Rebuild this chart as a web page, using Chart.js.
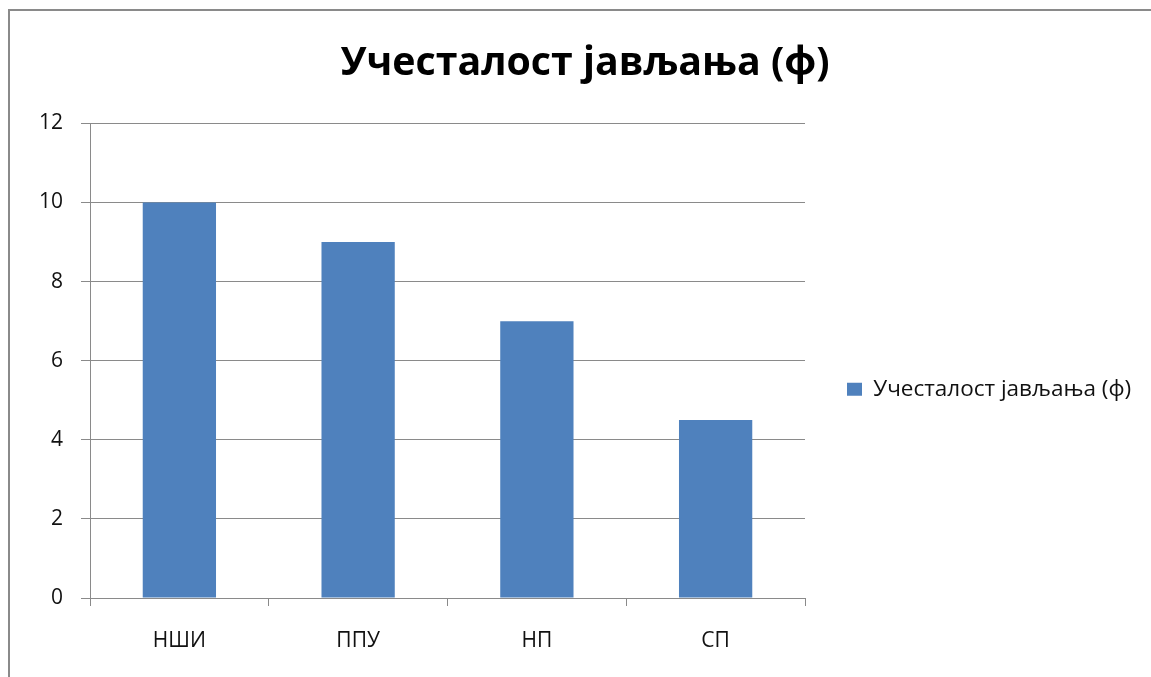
<!DOCTYPE html>
<html>
<head>
<meta charset="utf-8">
<script src="https://cdn.jsdelivr.net/npm/chart.js@4.4.0/dist/chart.umd.min.js"></script>
<style>
    html, body { margin: 0; padding: 0; background: #fff; overflow: hidden; }
    #frame {
        position: absolute; left: 8px; top: 9px; width: 1400px; height: 900px;
        border-left: 2px solid #8a8a8a; border-top: 2px solid #8a8a8a;
        pointer-events: none;
    }
    #chart { position: absolute; left: 0; top: 0; }
</style>
</head>
<body>
<canvas id="chart" width="1170" height="776"></canvas>
<div id="frame"></div>
<script>
// data
var TITLE = 'Учесталост јављања (ф)';
var SERIES_NAME = 'Учесталост јављања (ф)';
var CATEGORIES = ['НШИ', 'ППУ', 'НП', 'СП'];
var VALUES = [10, 9, 7, 4.5];
var Y_MAX = 12;
var Y_STEP = 2;

var FONT = '"Open Sans", "Noto Sans", sans-serif';
var GRID = '#8a8a8a';
var TEXT = '#111';

var chart = new Chart(document.getElementById('chart'), {
    type: 'bar',
    data: {
        labels: CATEGORIES,
        datasets: [{
            label: SERIES_NAME,
            data: VALUES,
            backgroundColor: '#4f81bd',
            barPercentage: 0.41,
            categoryPercentage: 1
        }]
    },
    options: {
        responsive: false,
        animation: false,
        // left/right chosen so the title centres near x=585 and the plot spans 90..805
        layout: { padding: { left: 36, right: 36, top: 0, bottom: 100.8 } },
        plugins: {
            title: {
                display: true,
                text: TITLE,
                color: '#000',
                font: { family: FONT, size: 39.3, weight: 'bold', lineHeight: 1.2 },
                padding: { top: 40.6, bottom: 35.6 }
            },
            legend: {
                position: 'right',
                fullSize: false,
                maxWidth: 329, // replaces the default cap of a quarter of the width
                // empty legend title only pushes the entry down a bit
                title: { display: true, text: '', padding: { top: 21.3, bottom: 21.3 } },
                labels: {
                    color: TEXT,
                    font: { family: FONT, size: 22.5 },
                    boxWidth: 15,
                    boxHeight: 13,
                    padding: 42
                }
            },
            tooltip: { enabled: false }
        },
        scales: {
            x: {
                grid: { offset: true, drawOnChartArea: false, color: GRID, tickLength: 8 },
                border: { color: GRID },
                ticks: { color: TEXT, font: { family: FONT, size: 21 }, padding: 22 }
            },
            y: {
                min: 0,
                max: Y_MAX,
                afterFit: function (scale) { scale.width = 54; }, // plot starts at x=90
                grid: { color: GRID, tickLength: 9 },
                border: { color: GRID },
                ticks: { stepSize: Y_STEP, color: TEXT, font: { family: FONT, size: 21 }, padding: 18 }
            }
        }
    }
});
</script>
</body>
</html>
